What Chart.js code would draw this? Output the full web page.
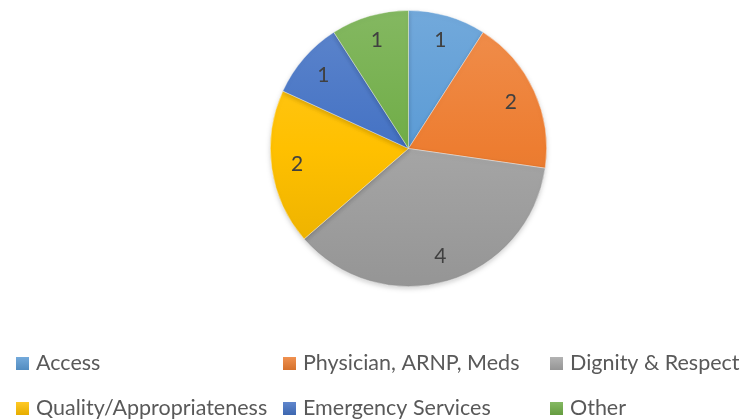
<!DOCTYPE html>
<html>
<head>
<meta charset="utf-8">
<script src="https://cdn.jsdelivr.net/npm/chart.js@4.4.1/dist/chart.umd.min.js"></script>
<style>
  html, body { margin: 0; padding: 0; background: #ffffff; }
  #wrap { width: 749px; height: 420px; }
</style>
</head>
<body>
<div id="wrap"><canvas id="grafico"></canvas></div>
<script>
const categorias = ["Access", "Physician, ARNP, Meds", "Dignity & Respect", "Quality/Appropriateness", "Emergency Services", "Other"];
const valores = [1, 2, 4, 2, 1, 1];
const colores = ["#5B9BD5", "#ED7D31", "#A5A5A5", "#FFC000", "#4472C4", "#70AD47"];

const fuente = "Lato, 'Open Sans', sans-serif";

function mezclar(hex, destino, t) {
  const n = parseInt(hex.slice(1), 16);
  const r = (n >> 16) & 255, g = (n >> 8) & 255, b = n & 255;
  const f = c => Math.round(c + (destino - c) * t);
  return `rgb(${f(r)}, ${f(g)}, ${f(b)})`;
}

// relleno con degradado vertical como en Excel
function relleno(ctx) {
  const chart = ctx.chart;
  const area = chart.chartArea;
  if (!area) return colores[ctx.dataIndex];
  const base = colores[ctx.dataIndex];
  const g = chart.ctx.createLinearGradient(0, area.top, 0, area.bottom);
  g.addColorStop(0, mezclar(base, 255, 0.14));
  g.addColorStop(0.5, base);
  g.addColorStop(1, mezclar(base, 0, 0.1));
  return g;
}

// sombra suave bajo la tarta
const sombraPlugin = {
  id: "sombra",
  beforeDatasetsDraw(chart) {
    const ctx = chart.ctx;
    ctx.save();
    ctx.shadowColor = "rgba(0,0,0,0.18)";
    ctx.shadowBlur = 5;
    ctx.shadowOffsetY = 2;
  },
  afterDatasetsDraw(chart) {
    chart.ctx.restore();
  }
};

// etiquetas de valor dentro de cada porcion
const etiquetasPlugin = {
  id: "etiquetas",
  afterDatasetsDraw(chart) {
    const ctx = chart.ctx;
    const meta = chart.getDatasetMeta(0);
    ctx.save();
    ctx.font = "21px " + fuente;
    ctx.fillStyle = "#404040";
    ctx.textAlign = "center";
    ctx.textBaseline = "middle";
    meta.data.forEach((arc, i) => {
      const p = arc.getProps(["x", "y", "startAngle", "endAngle", "outerRadius"], true);
      const ang = (p.startAngle + p.endAngle) / 2;
      const d = p.outerRadius * 0.815;
      ctx.fillText(String(valores[i]), p.x + Math.cos(ang) * d, p.y + Math.sin(ang) * d);
    });
    ctx.restore();
  }
};

// leyenda en rejilla de 3 columnas
const leyendaPlugin = {
  id: "leyendaRejilla",
  afterDraw(chart) {
    const ctx = chart.ctx;
    ctx.save();
    ctx.font = "21.5px " + fuente;
    ctx.textBaseline = "alphabetic";
    categorias.forEach((cat, i) => {
      const x = 16 + (i % 3) * 267;
      const y = 357 + Math.floor(i / 3) * 45;
      const g = ctx.createLinearGradient(0, y, 0, y + 13);
      g.addColorStop(0, mezclar(colores[i], 255, 0.15));
      g.addColorStop(1, mezclar(colores[i], 0, 0.1));
      ctx.fillStyle = g;
      ctx.fillRect(x, y, 13, 13);
      ctx.fillStyle = "#595959";
      ctx.fillText(cat, x + 20, y + 12.5);
    });
    ctx.restore();
  }
};

new Chart(document.getElementById("grafico"), {
  type: "pie",
  data: {
    labels: categorias,
    datasets: [{
      data: valores,
      backgroundColor: relleno,
      borderColor: "rgba(255,255,255,0.5)",
      borderWidth: 0.75
    }]
  },
  options: {
    responsive: true,
    maintainAspectRatio: false,
    animation: false,
    layout: { padding: { top: 10, bottom: 133, left: 68, right: 0 } },
    plugins: {
      legend: { display: false },
      tooltip: { enabled: false }
    }
  },
  plugins: [sombraPlugin, etiquetasPlugin, leyendaPlugin]
});
</script>
</body>
</html>
